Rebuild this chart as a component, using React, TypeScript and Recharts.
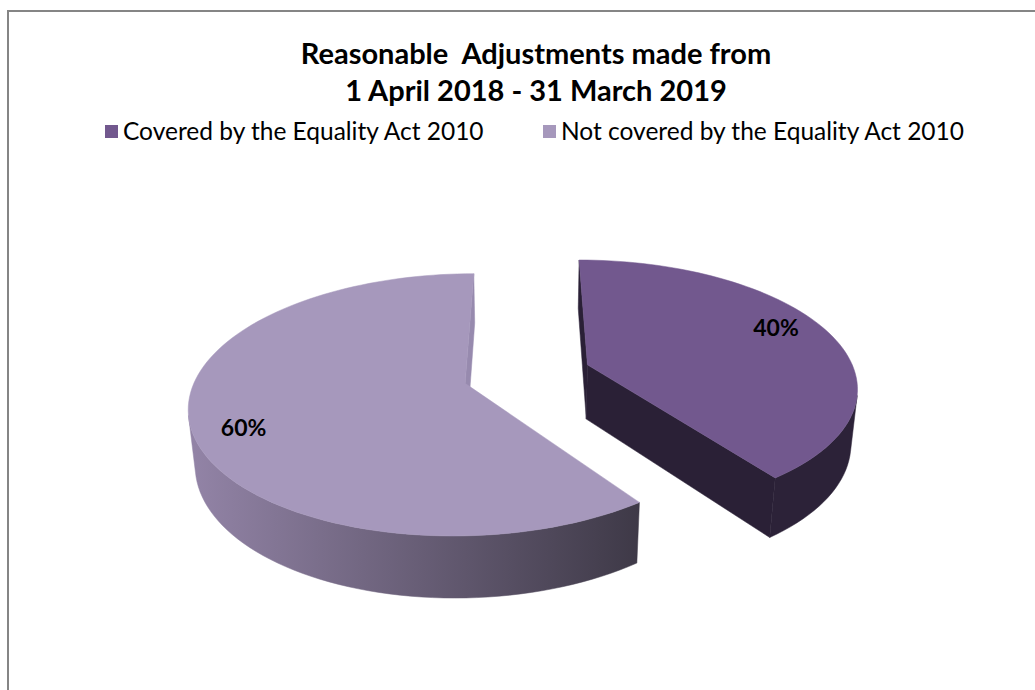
import { PieChart, Pie, Cell, Legend } from 'recharts';

const CATEGORIES = ['Covered by the Equality Act 2010', 'Not covered by the Equality Act 2010'];
const SHARES = [40, 60];
const TITLE_LINES = ['Reasonable  Adjustments made from', '1 April 2018 - 31 March 2019'];

const data = CATEGORIES.map((name, i) => ({ name, value: SHARES[i] }));

// top face, wall gradient (left -> right), cut face
const TOP_COLORS = ['#72588e', '#a698bc'];
const WALL_FROM = ['#2c2238', '#9384a7'];
const WALL_TO = ['#2c2238', '#3e3947'];
const CUT_COLORS = ['#2a2036', '#978aae'];

const FONT = 'Lato, "Open Sans", sans-serif';

// fake 3d: perspective camera looking down at the pie
const RAD = Math.PI / 180;
const TILT = 27.7 * RAD;
const DIST = 5.47;
const THICK = 0.235;
const EXPLODE = 0.24;
const LABEL_X = 0.8;
const LABEL_Z = 1.05;
const sinT = Math.sin(TILT);
const cosT = Math.cos(TILT);
const camera = [0, DIST * sinT, DIST * cosT];

type V3 = [number, number, number];

function proj(cx: number, cy: number, r: number, p: V3) {
  const [X, Y, Z] = p;
  const d = DIST - Y * sinT - Z * cosT;
  const v = Y * cosT - Z * sinT;
  const s = r * DIST;
  return [cx + (s * X) / d, cy - (s * v) / d];
}

function facing(p: V3, n: V3) {
  return (camera[0] - p[0]) * n[0] + (camera[1] - p[1]) * n[1] + (camera[2] - p[2]) * n[2] > 0;
}

// recharts angle -> world (X, Z), Z toward viewer
function dirOf(deg: number): [number, number] {
  return [Math.cos(deg * RAD), -Math.sin(deg * RAD)];
}

function Slice3D(props: any) {
  const { cx, cy, outerRadius, startAngle, endAngle, midAngle, index } = props;
  const [mx, mz] = dirOf(midAngle);
  const ox = EXPLODE * mx;
  const oz = EXPLODE * mz;
  const steps = Math.max(8, Math.ceil(Math.abs(endAngle - startAngle) / 2));
  const angles: number[] = [];
  for (let i = 0; i <= steps; i++) angles.push(startAngle + ((endAngle - startAngle) * i) / steps);

  const rim = (a: number, y: number): V3 => {
    const [dx, dz] = dirOf(a);
    return [ox + dx, y, oz + dz];
  };
  const center = (y: number): V3 => [ox, y, oz];
  const toPts = (ps: V3[]) =>
    ps.map((p) => proj(cx, cy, outerRadius, p).map((v) => v.toFixed(2)).join(',')).join(' ');

  const sign = endAngle > startAngle ? 1 : -1;
  const cuts: any[] = [];
  [
    [startAngle, startAngle - sign * 90],
    [endAngle, endAngle + sign * 90],
  ].forEach(([a, na], k) => {
    const [nx, nz] = dirOf(na);
    const [dx, dz] = dirOf(a);
    const mid: V3 = [ox + dx / 2, -THICK / 2, oz + dz / 2];
    if (facing(mid, [nx, 0, nz])) {
      cuts.push(
        <polygon
          key={'cut' + k}
          points={toPts([center(0), rim(a, 0), rim(a, -THICK), center(-THICK)])}
          fill={CUT_COLORS[index]}
          stroke={CUT_COLORS[index]}
          strokeWidth={0.5}
        />
      );
    }
  });

  // outer wall, split into runs of visible segments
  const runs: number[][] = [];
  let cur: number[] | null = null;
  for (let i = 0; i < steps; i++) {
    const am = (angles[i] + angles[i + 1]) / 2;
    const [nx, nz] = dirOf(am);
    if (facing(rim(am, -THICK / 2), [nx, 0, nz])) {
      if (!cur) {
        cur = [i];
        runs.push(cur);
      }
      cur.push(i + 1);
    } else {
      cur = null;
    }
  }
  let minX = Infinity;
  let maxX = -Infinity;
  const wallPolys = runs.map((run) => {
    const top = run.map((i) => rim(angles[i], 0));
    const bottom = run.map((i) => rim(angles[i], -THICK)).reverse();
    const all = [...top, ...bottom];
    all.forEach((p) => {
      const [x] = proj(cx, cy, outerRadius, p);
      minX = Math.min(minX, x);
      maxX = Math.max(maxX, x);
    });
    return toPts(all);
  });
  const gid = `wall-grad-${index}`;
  const topPts = toPts([center(0), ...angles.map((a) => rim(a, 0))]);

  return (
    <g>
      <defs>
        <linearGradient id={gid} gradientUnits="userSpaceOnUse" x1={minX} x2={maxX} y1={0} y2={0}>
          <stop offset="0%" stopColor={WALL_FROM[index]} />
          <stop offset="100%" stopColor={WALL_TO[index]} />
        </linearGradient>
      </defs>
      {cuts}
      {wallPolys.map((pts, k) => (
        <polygon key={'wall' + k} points={pts} fill={`url(#${gid})`} stroke={`url(#${gid})`} strokeWidth={0.5} />
      ))}
      <polygon points={topPts} fill={props.fill} stroke={props.fill} strokeWidth={0.5} />
    </g>
  );
}

function renderLabel(props: any) {
  const { cx, cy, outerRadius, midAngle, percent } = props;
  const [mx, mz] = dirOf(midAngle);
  const p: V3 = [mx * (EXPLODE + LABEL_X), 0, mz * (EXPLODE + LABEL_Z)];
  const [x, y] = proj(cx, cy, outerRadius, p);
  return (
    <text x={x} y={y} textAnchor="middle" dominantBaseline="central" fontFamily={FONT} fontWeight={700} fontSize={23} fill="#000">
      {`${Math.round(percent * 100)}%`}
    </text>
  );
}

function LegendContent({ payload }: any) {
  return (
    <div style={{ display: 'flex', paddingLeft: 105, fontFamily: FONT, fontSize: 24.5, lineHeight: '28px', color: '#000' }}>
      {(payload || []).map((e: any, i: number) => (
        <div key={e.value} style={{ display: 'flex', alignItems: 'center', width: i === 0 ? 438 : 'auto', whiteSpace: 'nowrap' }}>
          <span style={{ display: 'inline-block', width: 13, height: 13, background: e.color, marginRight: 5 }} />
          {e.value}
        </div>
      ))}
    </div>
  );
}

export default function App() {
  return (
    <div style={{ position: 'absolute', left: 0, top: 0, width: 1035, height: 690, background: '#fff', overflow: 'hidden' }}>
      <div
        style={{
          position: 'absolute',
          left: 7,
          top: 10,
          right: -10,
          bottom: -10,
          borderTop: '2px solid #858585',
          borderLeft: '2px solid #858585',
        }}
      />
      <div
        style={{
          position: 'absolute',
          left: 236,
          top: 34,
          width: 600,
          textAlign: 'center',
          fontFamily: FONT,
          fontWeight: 700,
          fontSize: 29,
          lineHeight: '37px',
          whiteSpace: 'pre',
          color: '#000',
        }}
      >
        {TITLE_LINES.map((t) => (
          <div key={t}>{t}</div>
        ))}
      </div>
      <div style={{ position: 'absolute', left: 0, top: 0 }}>
        <PieChart width={1035} height={690} margin={{ top: 0, right: 0, bottom: 0, left: 0 }}>
          <Legend
            layout="horizontal"
            verticalAlign="middle"
            align="center"
            content={<LegendContent />}
            wrapperStyle={{ top: 117, left: 0, width: 1035 }}
          />
          <Pie
            data={data}
            dataKey="value"
            nameKey="name"
            cx={527}
            cy={374}
            outerRadius={268}
            startAngle={90}
            endAngle={-270}
            stroke="none"
            isAnimationActive={false}
            shape={Slice3D}
            activeShape={Slice3D}
            label={renderLabel}
            labelLine={false}
          >
            {data.map((d, i) => (
              <Cell key={d.name} fill={TOP_COLORS[i]} />
            ))}
          </Pie>
        </PieChart>
      </div>
    </div>
  );
}
